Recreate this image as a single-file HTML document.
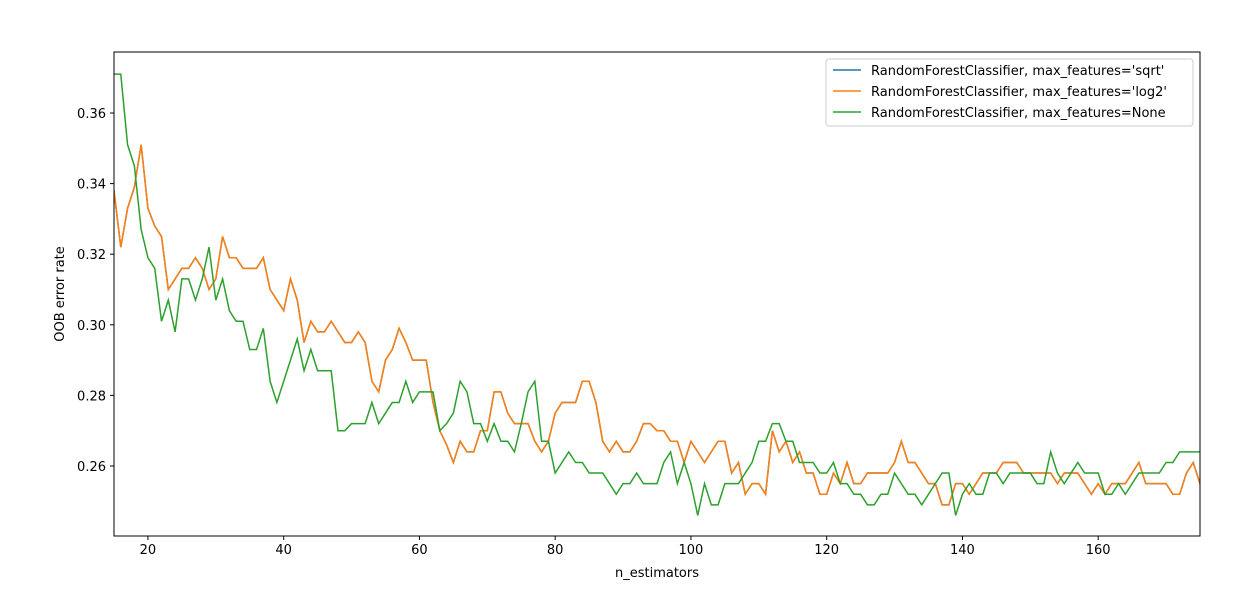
<!DOCTYPE html>
<html><head><meta charset="utf-8"><style>
body{margin:0;background:#fff;}
svg text{font-family:"DejaVu Sans","Liberation Sans",sans-serif;font-size:13px;fill:#000;}
</style></head><body>
<svg id="chart" width="1260" height="591" xmlns="http://www.w3.org/2000/svg"></svg>
<script>
const nStart = 15;
const sqrtErr = [0.338,0.322,0.333,0.339,0.351,0.333,0.328,0.325,0.310,0.313,0.316,0.316,0.319,0.316,0.310,0.313,0.325,0.319,0.319,0.316,0.316,0.316,0.319,0.310,0.307,0.304,0.313,0.307,0.295,0.301,0.298,0.298,0.301,0.298,0.295,0.295,0.298,0.295,0.284,0.281,0.290,0.293,0.299,0.295,0.290,0.290,0.290,0.278,0.270,0.266,0.261,0.267,0.264,0.264,0.270,0.270,0.281,0.281,0.275,0.272,0.272,0.272,0.267,0.264,0.267,0.275,0.278,0.278,0.278,0.284,0.284,0.278,0.267,0.264,0.267,0.264,0.264,0.267,0.272,0.272,0.270,0.270,0.267,0.267,0.261,0.267,0.264,0.261,0.264,0.267,0.267,0.258,0.261,0.252,0.255,0.255,0.252,0.270,0.264,0.267,0.261,0.264,0.258,0.258,0.252,0.252,0.258,0.255,0.261,0.255,0.255,0.258,0.258,0.258,0.258,0.261,0.267,0.261,0.261,0.258,0.255,0.255,0.249,0.249,0.255,0.255,0.252,0.255,0.258,0.258,0.258,0.261,0.261,0.261,0.258,0.258,0.258,0.258,0.258,0.255,0.258,0.258,0.258,0.255,0.252,0.255,0.252,0.255,0.255,0.255,0.258,0.261,0.255,0.255,0.255,0.255,0.252,0.252,0.258,0.261,0.255];
const log2Err = sqrtErr.slice();
const noneErr = [0.371,0.371,0.351,0.345,0.327,0.319,0.316,0.301,0.307,0.298,0.313,0.313,0.307,0.313,0.322,0.307,0.313,0.304,0.301,0.301,0.293,0.293,0.299,0.284,0.278,0.284,0.290,0.296,0.287,0.293,0.287,0.287,0.287,0.270,0.270,0.272,0.272,0.272,0.278,0.272,0.275,0.278,0.278,0.284,0.278,0.281,0.281,0.281,0.270,0.272,0.275,0.284,0.281,0.272,0.272,0.267,0.272,0.267,0.267,0.264,0.272,0.281,0.284,0.267,0.267,0.258,0.261,0.264,0.261,0.261,0.258,0.258,0.258,0.255,0.252,0.255,0.255,0.258,0.255,0.255,0.255,0.261,0.264,0.255,0.261,0.255,0.246,0.255,0.249,0.249,0.255,0.255,0.255,0.258,0.261,0.267,0.267,0.272,0.272,0.267,0.267,0.261,0.261,0.261,0.258,0.258,0.261,0.255,0.255,0.252,0.252,0.249,0.249,0.252,0.252,0.258,0.255,0.252,0.252,0.249,0.252,0.255,0.258,0.258,0.246,0.252,0.255,0.252,0.252,0.258,0.258,0.255,0.258,0.258,0.258,0.258,0.255,0.255,0.264,0.258,0.255,0.258,0.261,0.258,0.258,0.258,0.252,0.252,0.255,0.252,0.255,0.258,0.258,0.258,0.258,0.261,0.261,0.264,0.264,0.264,0.264];
const xTicks = [20,40,60,80,100,120,140,160];
const yTicks = [0.26,0.28,0.30,0.32,0.34,0.36];
const seriesNames = ["RandomForestClassifier, max_features='sqrt'","RandomForestClassifier, max_features='log2'","RandomForestClassifier, max_features=None"];

const L=114,R=1200,T=52,B=536, xMin=15,xMax=175;
const sx=v=>L+(v-xMin)/(xMax-xMin)*(R-L);
const sy=v=>466-(v-0.26)/0.1*353;
const svg=document.getElementById('chart');
const NS='http://www.w3.org/2000/svg';
function mk(tag,attrs,parent){const e=document.createElementNS(NS,tag);for(const k in attrs)e.setAttribute(k,attrs[k]);(parent||svg).appendChild(e);return e;}

const cp=mk('clipPath',{id:'clip'});mk('rect',{x:L,y:T,width:R-L,height:B-T},cp);
const colors=['#1f77b4','#ff7f0e','#2ca02c'];
[sqrtErr,log2Err,noneErr].forEach((arr,i)=>{
  const p=mk('polyline',{points:arr.map((v,j)=>sx(nStart+j)+','+sy(v)).join(' '),fill:'none',stroke:colors[i],'stroke-width':1.5,'clip-path':'url(#clip)'});
  
  
});
const frame=mk('rect',{x:L,y:T,width:R-L,height:B-T,fill:'none',stroke:'#000','stroke-width':1});


xTicks.forEach(t=>{
  mk('line',{x1:sx(t),x2:sx(t),y1:B,y2:B+4,stroke:'#000'});
  const tx=mk('text',{x:sx(t),y:B+18,'text-anchor':'middle'});tx.textContent=t;
  
  
});
yTicks.forEach(t=>{
  mk('line',{x1:L-4,x2:L,y1:sy(t),y2:sy(t),stroke:'#000'});
  const tx=mk('text',{x:L-8,y:sy(t)+5,'text-anchor':'end'});tx.textContent=t.toFixed(2);
  
  
});
const xl=mk('text',{x:657,y:577,'text-anchor':'middle'});xl.textContent='n_estimators';


const yl=mk('text',{x:64,y:294,'text-anchor':'middle',transform:'rotate(-90 64 294)'});yl.textContent='OOB error rate';


const lg=mk('g',{});


mk('rect',{x:826,y:59,width:367,height:67,rx:3,fill:'#fff','fill-opacity':0.8,stroke:'#ccc'},lg);
seriesNames.forEach((n,i)=>{
  const y=70+i*21;
  mk('line',{x1:833,x2:861,y1:y,y2:y,stroke:colors[i],'stroke-width':1.5},lg);
  const t=mk('text',{x:871,y:y+5},lg);t.textContent=n;
  
  
});
</script>
</body></html>
